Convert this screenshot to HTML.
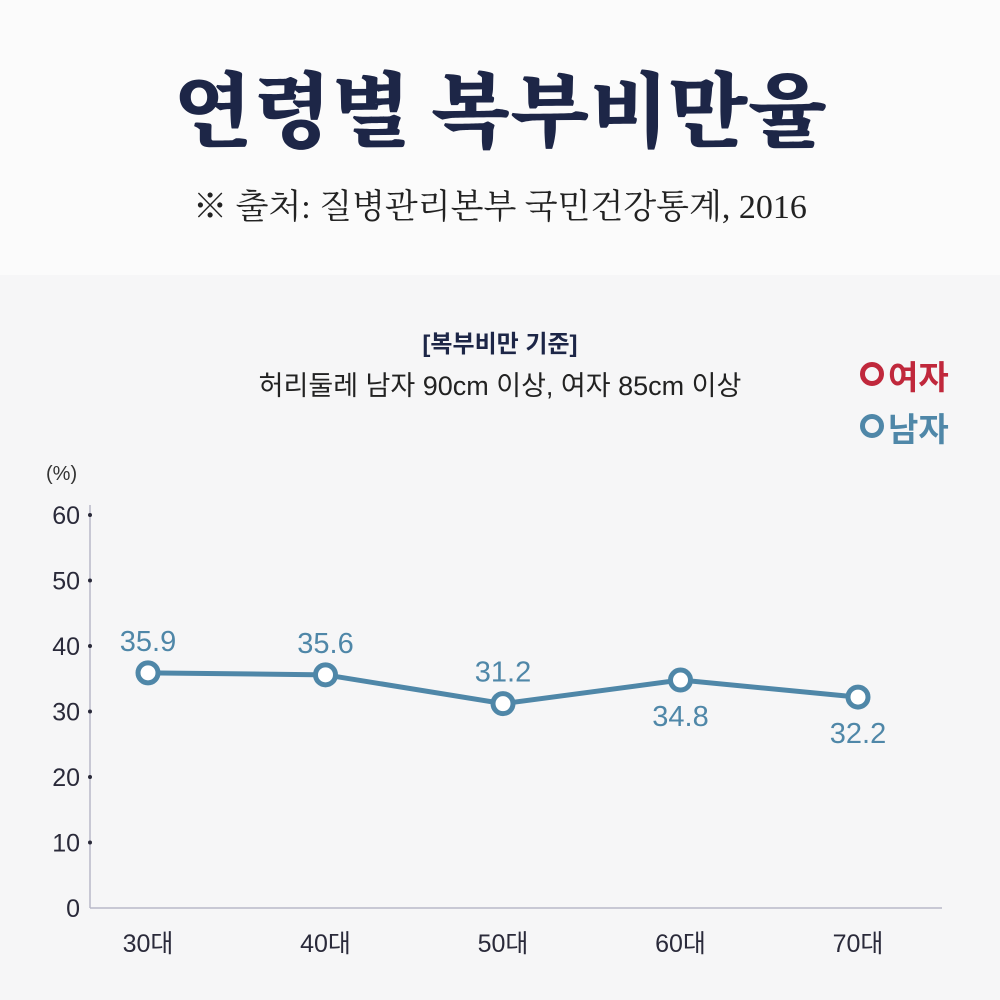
<!DOCTYPE html>
<html><head><meta charset="utf-8"><style>
body{margin:0;width:1000px;height:1000px;overflow:hidden;background:#f6f6f7;font-family:"Liberation Sans","Noto Sans CJK KR",sans-serif}
#top{position:absolute;left:0;top:0;width:1000px;height:275px;background:#fbfbfb}
.t{position:absolute;white-space:nowrap}
</style></head><body>
<div id="top"></div>
<div class="t" style="left:0;width:1000px;text-align:center;top:58px;font-family:'Noto Serif CJK SC',serif;font-weight:900;font-size:82px;color:#1d2647;line-height:96px">연령별 복부비만율</div>
<div class="t" style="left:0;width:1000px;text-align:center;top:186px;font-family:'Liberation Serif','Noto Serif CJK SC',serif;font-size:34px;color:#222;line-height:44px">※ 출처: 질병관리본부 국민건강통계, 2016</div>
<div class="t" style="left:0;width:1000px;text-align:center;top:324px;font-size:24px;font-weight:bold;color:#1d2647">[복부비만 기준]</div>
<div class="t" style="left:0;width:1000px;text-align:center;top:364px;font-size:27px;color:#222">허리둘레 남자 90cm 이상, 여자 85cm 이상</div>
<div class="t" style="left:860px;top:358px;font-size:33px;font-weight:bold;color:#c0283c;line-height:40px"><span style="display:inline-block;width:14px;height:14px;border:5px solid #c0283c;border-radius:50%;vertical-align:3px;margin-right:4px"></span>여자</div>
<div class="t" style="left:860px;top:410px;font-size:33px;font-weight:bold;color:#4f87a8;line-height:40px"><span style="display:inline-block;width:14px;height:14px;border:5px solid #4f87a8;border-radius:50%;vertical-align:3px;margin-right:4px"></span>남자</div>
<svg id="c" width="1000" height="1000" style="position:absolute;left:0;top:0"></svg>
<script>
const categories=["30대","40대","50대","60대","70대"];
const maleValues=[35.9,35.6,31.2,34.8,32.2];
const maleLabels=["35.9","35.6","31.2","34.8","32.2"];
const yTicks=[0,10,20,30,40,50,60];
const NS="http://www.w3.org/2000/svg";
const svg=document.getElementById('c');
const x=i=>148+i*177.5;
const y=v=>908-v*6.55;
function mk(t,a,txt){const e=document.createElementNS(NS,t);for(const k in a)e.setAttribute(k,a[k]);if(txt!==undefined)e.textContent=txt;svg.appendChild(e);return e;}
let e=mk('line',{x1:90,y1:505,x2:90,y2:908,stroke:'#b8b8c8','stroke-width':1.5});

e=mk('line',{x1:90,y1:908,x2:942,y2:908,stroke:'#b8b8c8','stroke-width':1.5});

e=mk('text',{x:46,y:480,'font-size':20,fill:'#333'},'(%)');

yTicks.forEach(v=>{
 e=mk('text',{x:80,y:y(v)+9,'font-size':25,fill:'#2a2a3a','text-anchor':'end'},String(v));
 
 if(v>0){e=mk('circle',{cx:90,cy:y(v),r:2,fill:'#2a2a3a'});
 }
});
categories.forEach((c,i)=>{
 e=mk('text',{x:x(i),y:952,'font-size':25,fill:'#2a2a3a','text-anchor':'middle'},c);
 
});
e=mk('polyline',{points:maleValues.map((v,i)=>x(i)+','+y(v)).join(' '),fill:'none',stroke:'#4f87a8','stroke-width':5});

maleValues.forEach((v,i)=>{
 e=mk('circle',{cx:x(i),cy:y(v),r:10,fill:'#fff',stroke:'#4f87a8','stroke-width':5});
 
 const below=i>=3;
 e=mk('text',{x:x(i),y:below?y(v)+46:y(v)-22,'font-size':29,fill:'#4f87a8','text-anchor':'middle'},maleLabels[i]);
 
});
</script>
</body></html>
